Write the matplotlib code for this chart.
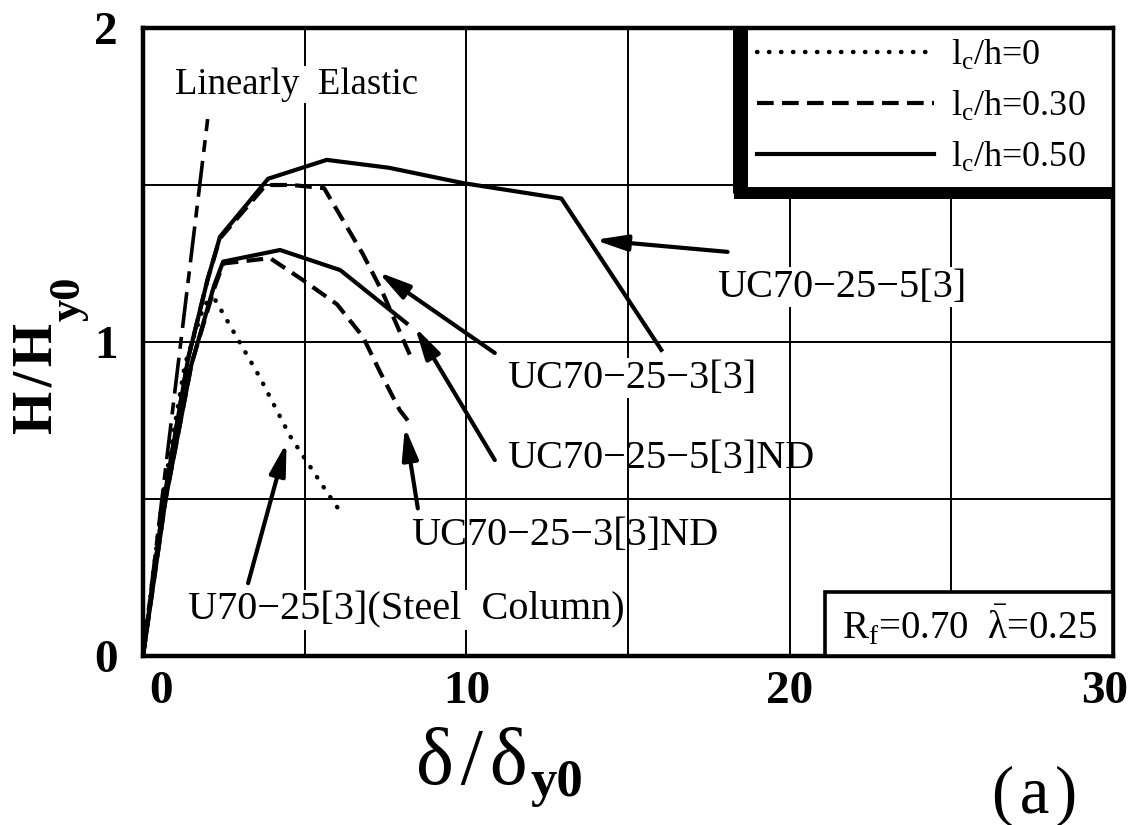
import matplotlib
matplotlib.use("Agg")
import matplotlib.pyplot as plt
from matplotlib.patches import Rectangle
import matplotlib.transforms as mtransforms

plt.rcParams['font.family'] = ['Liberation Serif', 'DejaVu Serif']
plt.rcParams['mathtext.fontset'] = 'custom'
plt.rcParams['mathtext.rm'] = 'Liberation Serif'
plt.rcParams['mathtext.it'] = 'Liberation Serif:italic'
plt.rcParams['mathtext.bf'] = 'Liberation Serif:bold'

# ---------------- data ----------------
elastic_x = [0, 2.0]
elastic_y = [0, 1.71]

# l_c/h = 0  (steel column U70-25[3])
u70_x = [0, 0.6, 1.3, 1.9, 2.2, 3.6, 4.55, 5.7, 6.1]
u70_y = [0, 0.50, 0.93, 1.12, 1.14, 0.89, 0.70, 0.52, 0.46]

# l_c/h = 0.30
uc3_x = [0, 0.65, 1.4, 2.0, 2.38, 3.8, 4.6, 5.6, 6.8, 7.4, 8.25]
uc3_y = [0, 0.50, 0.95, 1.20, 1.33, 1.50, 1.50, 1.49, 1.28, 1.16, 0.96]
uc3nd_x = [0, 0.7, 1.5, 2.2, 2.48, 3.93, 4.95, 6.0, 6.8, 7.33, 7.94, 8.25]
uc3nd_y = [0, 0.50, 0.93, 1.17, 1.25, 1.267, 1.197, 1.12, 1.017, 0.905, 0.783, 0.742]

# l_c/h = 0.50
uc5_x = [0, 0.65, 1.4, 2.0, 2.38, 3.87, 5.68, 7.6, 9.9, 12.94, 16.03]
uc5_y = [0, 0.50, 0.95, 1.20, 1.335, 1.52, 1.58, 1.555, 1.506, 1.457, 0.975]
uc5nd_x = [0, 0.7, 1.5, 2.2, 2.48, 4.24, 6.1, 8.15]
uc5nd_y = [0, 0.50, 0.93, 1.18, 1.256, 1.293, 1.229, 1.06]

legend_labels = ['l$_\\mathrm{c}$/h=0', 'l$_\\mathrm{c}$/h=0.30', 'l$_\\mathrm{c}$/h=0.50']
xticks = [0, 5, 10, 15, 20, 25, 30]
xticklabels = ['0', '', '10', '', '20', '', '30']
yticks = [0, 0.5, 1.0, 1.5, 2.0]
yticklabels = ['0', '', '1', '', '2']

# annotations: (text, text_xy, arrow_tail, arrow_head, white background)
annots = [
    ('UC70\u221225\u22125[3]', (17.77, 1.175), (18.08, 1.287), (13.97, 1.325), True),
    ('UC70\u221225\u22123[3]', (11.25, 0.885), (10.88, 0.965), (7.27, 1.223), True),
    ('UC70\u221225\u22125[3]ND', (11.25, 0.63), (10.88, 0.624), (8.41, 1.048), False),
    ('UC70\u221225\u22123[3]ND', (8.3, 0.385), (8.5, 0.47), (8.1, 0.73), False),
    ('U70\u221225[3](Steel  Column)', (1.39, 0.146), (3.25, 0.232), (4.44, 0.68), True),
]

# ---------------- figure ----------------
W, H = 1148, 825
fig = plt.figure(figsize=(W / 100, H / 100), dpi=100)
ax = fig.add_axes([143 / W, (H - 656) / H, (1113 - 143) / W, (656 - 28) / H])
ax.set_xlim(0, 30)
ax.set_ylim(0, 2)

lw = 3.0
ax.plot(elastic_x, elastic_y, color='black', lw=2.6, linestyle=(0, (10, 2.5, 3.3, 2.5)), zorder=3)
l_dot, = ax.plot(u70_x, u70_y, color='black', lw=3.2, linestyle=(0, (0.1, 2.6)),
                 dash_capstyle='round', zorder=3)
l_dash, = ax.plot(uc3_x, uc3_y, color='black', lw=lw, linestyle=(0, (4, 2)), zorder=3)
ax.plot(uc3nd_x, uc3nd_y, color='black', lw=lw, linestyle=(0, (4, 2)), zorder=3)
l_solid, = ax.plot(uc5_x, uc5_y, color='black', lw=lw, zorder=3)
ax.plot(uc5nd_x, uc5nd_y, color='black', lw=lw, zorder=3)

# axes styling
ax.set_xticks(xticks)
ax.set_xticklabels(xticklabels)
ax.set_yticks(yticks)
ax.set_yticklabels(yticklabels)
ax.tick_params(axis='both', length=0, labelsize=34)
ax.tick_params(axis='x', pad=11)
ax.tick_params(axis='y', pad=18)
for lab in ax.get_xticklabels() + ax.get_yticklabels():
    lab.set_fontweight('bold')
xl = ax.get_xticklabels()
xl[0].set_transform(xl[0].get_transform() + mtransforms.ScaledTranslation(18 / 100, 0, fig.dpi_scale_trans))
xl[-1].set_transform(xl[-1].get_transform() + mtransforms.ScaledTranslation(-8 / 100, 0, fig.dpi_scale_trans))
ax.grid(True, color='black', lw=1.4)
ax.set_axisbelow(True)
for s in ax.spines.values():
    s.set_linewidth(3.2)
    s.set_zorder(6)

# text annotations
ax.text(0.99, 1.82, 'Linearly  Elastic', fontsize=26.5, ha='left', va='center', zorder=4,
        bbox=dict(facecolor='white', edgecolor='none', pad=1))
for txt, txy, tail, head, bg in annots:
    kw = {}
    if bg:
        kw['bbox'] = dict(facecolor='white', edgecolor='none', pad=1)
    ax.text(txy[0], txy[1], txt, fontsize=29, ha='left', va='center', zorder=4, **kw)
    ax.annotate('', xy=head, xytext=tail,
                arrowprops=dict(arrowstyle='-|>,head_length=1.2,head_width=0.3', lw=3,
                                color='black', mutation_scale=16, shrinkA=0, shrinkB=0),
                zorder=5)

# legend box with heavy left/bottom border
lx0, ly0 = 18.45, 1.475
ax.add_patch(Rectangle((lx0, ly0), 30 - lx0, 2 - ly0, facecolor='white', edgecolor='black',
                       lw=2.5, zorder=7))
ax.plot([lx0, lx0], [ly0, 2.0], color='black', lw=10.8, solid_capstyle='butt', zorder=8)
ax.plot([lx0, 30], [ly0, ly0], color='black', lw=8.6, solid_capstyle='projecting', zorder=8)
leg = ax.legend([l_dot, l_dash, l_solid], legend_labels, loc='upper left',
                bbox_to_anchor=(19.0 / 30, 1.965 / 2), frameon=False, fontsize=26,
                handlelength=4.9, handletextpad=0.45, labelspacing=0.46,
                borderpad=0, borderaxespad=0)
leg.set_zorder(9)

# parameter box
ax.add_patch(Rectangle((21.1, 0), 30 - 21.1, 0.204, facecolor='white', edgecolor='black',
                       lw=2.6, zorder=7))
ax.text(25.55, 0.095, 'R$_\\mathrm{f}$=0.70  $\\bar{\\mathrm{\\lambda}}$=0.25', fontsize=28,
        ha='center', va='center', zorder=8)

# axis labels (main part + large bold subscript)
fig.canvas.draw()
renderer = fig.canvas.get_renderer()
inv = fig.transFigure.inverted()

# y label, rotated, reading upward
ylab = fig.text(51 / W, 1 - 434 / H, 'H\u200a/\u200aH', fontsize=40, fontweight='bold', rotation=90,
                rotation_mode='anchor', ha='left', va='baseline')
bb = ylab.get_window_extent(renderer)
top = inv.transform((0, bb.y1))[1]
fig.text(80 / W, top + 2 / H, 'y0', fontsize=32, fontweight='bold', rotation=90,
         rotation_mode='anchor', ha='left', va='baseline')

# x label
xlab = fig.text(416 / W, 1 - 784 / H, '\u03b4\u200a/\u200a\u03b4', fontsize=58, ha='left', va='baseline')
bb = xlab.get_window_extent(renderer)
right = inv.transform((bb.x1, 0))[0]
fig.text(right + 3 / W, 1 - 796 / H, 'y0', fontsize=38, fontweight='bold', ha='left', va='baseline')

fig.text(1035 / W, 1 - 796 / H, '(\u200aa\u200a)', fontsize=48, ha='center', va='center')

fig.savefig('out.png', dpi=100)
